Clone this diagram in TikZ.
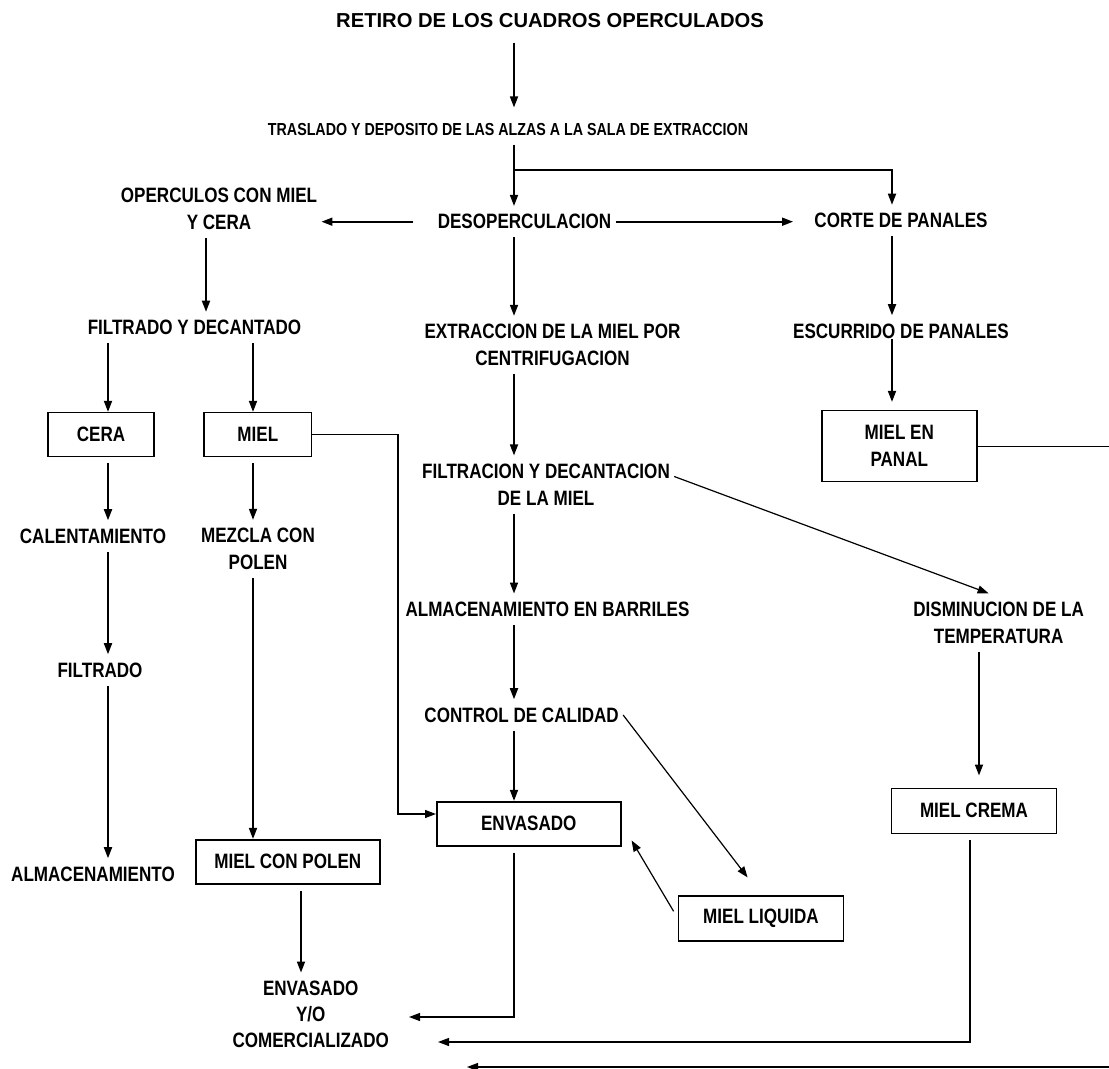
\documentclass[tikz,border=0pt]{standalone}
\usepackage{fontspec}
\setmainfont{Liberation Sans}
\newfontfamily\narrowfont{Liberation Sans}[FakeStretch=0.82]
\usetikzlibrary{arrows.meta}

\begin{document}
\begin{tikzpicture}[x=0.5pt, y=-0.5pt,
    txt/.style={font={\narrowfont\bfseries\fontsize{10.4}{13.4}\selectfont}, align=center, inner xsep=2pt, inner ysep=4pt},
    box/.style={txt, draw, line width=0.8pt, minimum height=22pt},
    arr/.style={-{Triangle[length=5.5pt,width=4pt]}, line width=0.85pt},
    thin/.style={line width=0.6pt}]
  \useasboundingbox (0,0) rectangle (1109,1069);
  % column axes and bends
  \coordinate (cC) at (514,0);
  \coordinate (cR) at (892,0);
  \coordinate (cA) at (206,0);
  \coordinate (cL) at (108,0);
  \coordinate (cM) at (253,0);
  \coordinate (cP) at (301,0);
  \coordinate (cD) at (979,0);
  \coordinate (cE) at (970,0);
  \coordinate (split) at (514,170);
  \coordinate (bend) at (398,814);
  \coordinate (edge) at (1116,0);
  \coordinate (inB) at (409,1017);
  \coordinate (inC) at (438,1042);
  \coordinate (inP) at (467,1067);

  % top
  \node[font={\bfseries\fontsize{10.1}{12}\selectfont}, inner ysep=7pt] (title) at (550,21) {RETIRO DE LOS CUADROS OPERCULADOS};
  \node[txt, font={\narrowfont\bfseries\fontsize{8.7}{10}\selectfont}] (traslado) at (508,130) {TRASLADO Y DEPOSITO DE LAS ALZAS A LA SALA DE EXTRACCION};
  \node[txt] (desop) at (524.5,221.7) {DESOPERCULACION};
  \node[txt] (corte) at (901,220.5) {CORTE DE PANALES};
  \node[txt] (operc) at (219,208.5) {OPERCULOS CON MIEL\\Y CERA};

  % left branch
  \node[txt] (filtdec) at (194.5,327.5) {FILTRADO Y DECANTADO};
  \node[box, minimum width=53pt] (cera) at (101,434.7) {CERA};
  \node[box, minimum width=53.8pt] (miel) at (257.8,434.7) {MIEL};
  \node[txt] (calent) at (93,536) {CALENTAMIENTO};
  \node[txt] (mezcla) at (258,549) {MEZCLA CON\\POLEN};
  \node[txt] (filtrado) at (100,670) {FILTRADO};
  \node[txt] (almac) at (93,874) {ALMACENAMIENTO};
  \node[box, minimum width=92pt] (mcp) at (287.8,861.7) {MIEL CON POLEN};
  \node[txt, font={\narrowfont\bfseries\fontsize{10.4}{13.1}\selectfont}] (comerc) at (310.7,1014.5) {ENVASADO\\Y/O\\COMERCIALIZADO};

  % centre
  \node[txt] (extrac) at (552.5,345) {EXTRACCION DE LA MIEL POR\\CENTRIFUGACION};
  \node[txt] (filtrac) at (546,484.5) {FILTRACION Y DECANTACION\\DE LA MIEL};
  \node[txt] (barriles) at (547.5,609.3) {ALMACENAMIENTO EN BARRILES};
  \node[txt] (control) at (521.6,715) {CONTROL DE CALIDAD};
  \node[box, minimum width=92pt] (envas) at (528.8,823.7) {ENVASADO};
  \node[box, minimum width=82.5pt, minimum height=22.5pt] (liquida) at (761,918.2) {MIEL LIQUIDA};

  % right branch
  \node[txt] (escurr) at (901,331) {ESCURRIDO DE PANALES};
  \node[box, minimum width=77.5pt, minimum height=35.5pt] (panal) at (899.3,446.2) {MIEL EN\\PANAL};
  \node[txt] (dism) at (998.6,622.5) {DISMINUCION DE LA\\TEMPERATURA};
  \node[box, minimum width=82.5pt, minimum height=22.5pt] (crema) at (974,810.8) {MIEL CREMA};

  % connectors
  \draw[arr, shorten >=4pt] (title.south -| cC) -- (traslado.north -| cC);
  \draw[arr] (traslado.south -| cC) -- (desop.north -| cC);
  \draw[arr] (split) -| (corte.north -| cR);
  \draw[arr, shorten <=10pt] (desop.west) -- (operc.east |- desop.west);
  \draw[arr, shorten >=8.5pt] (desop.east) -- (corte.west |- desop.east);
  \draw[arr] (operc.south -| cA) -- (filtdec.north -| cA);
  \draw[arr] (filtdec.south -| cL) -- (cera.north -| cL);
  \draw[arr] (filtdec.south -| cM) -- (miel.north -| cM);
  \draw[arr, shorten <=3pt] (cera.south -| cL) -- (calent.north -| cL);
  \draw[arr, shorten <=3pt] (miel.south -| cM) -- (mezcla.north -| cM);
  \draw[arr] (calent.south -| cL) -- (filtrado.north -| cL);
  \draw[arr] (filtrado.south -| cL) -- (almac.north -| cL);
  \draw[arr] (mezcla.south -| cM) -- (mcp.north -| cM);
  \draw[arr, shorten <=3pt] (mcp.south -| cP) -- (comerc.north -| cP);
  \draw[arr, thin] (miel.east) -| (bend) -- (bend -| envas.west);
  \draw[arr] (desop.south -| cC) -- (extrac.north -| cC);
  \draw[arr] (extrac.south -| cC) -- (filtrac.north -| cC);
  \draw[arr] (filtrac.south -| cC) -- (barriles.north -| cC);
  \draw[arr] (barriles.south -| cC) -- (control.north -| cC);
  \draw[arr] (control.south -| cC) -- (envas.north -| cC);
  \draw[arr, thin] ([yshift=4pt]filtrac.east) -- ([xshift=-5pt]dism.north);
  \draw[arr, thin, shorten >=11pt] (control.east) -- (liquida.north);
  \draw[arr, thin, shorten <=4pt] (liquida.west) -- ([xshift=5pt,yshift=3pt]envas.south east);
  \draw[arr, thin, shorten <=3pt] (envas.south -| cC) |- (inB);
  \draw[arr] (corte.south -| cR) -- (escurr.north -| cR);
  \draw[arr, shorten <=-4pt, shorten >=4pt] (escurr.south -| cR) -- (panal.north -| cR);
  \draw[arr, shorten >=6pt] (dism.south -| cD) -- (crema.north -| cD);
  \draw[arr, thin, shorten <=3pt] (crema.south -| cE) |- (inC);
  \draw[arr, thin] (panal.east) -- (panal.east -| edge) |- (inP);
\end{tikzpicture}
\end{document}
